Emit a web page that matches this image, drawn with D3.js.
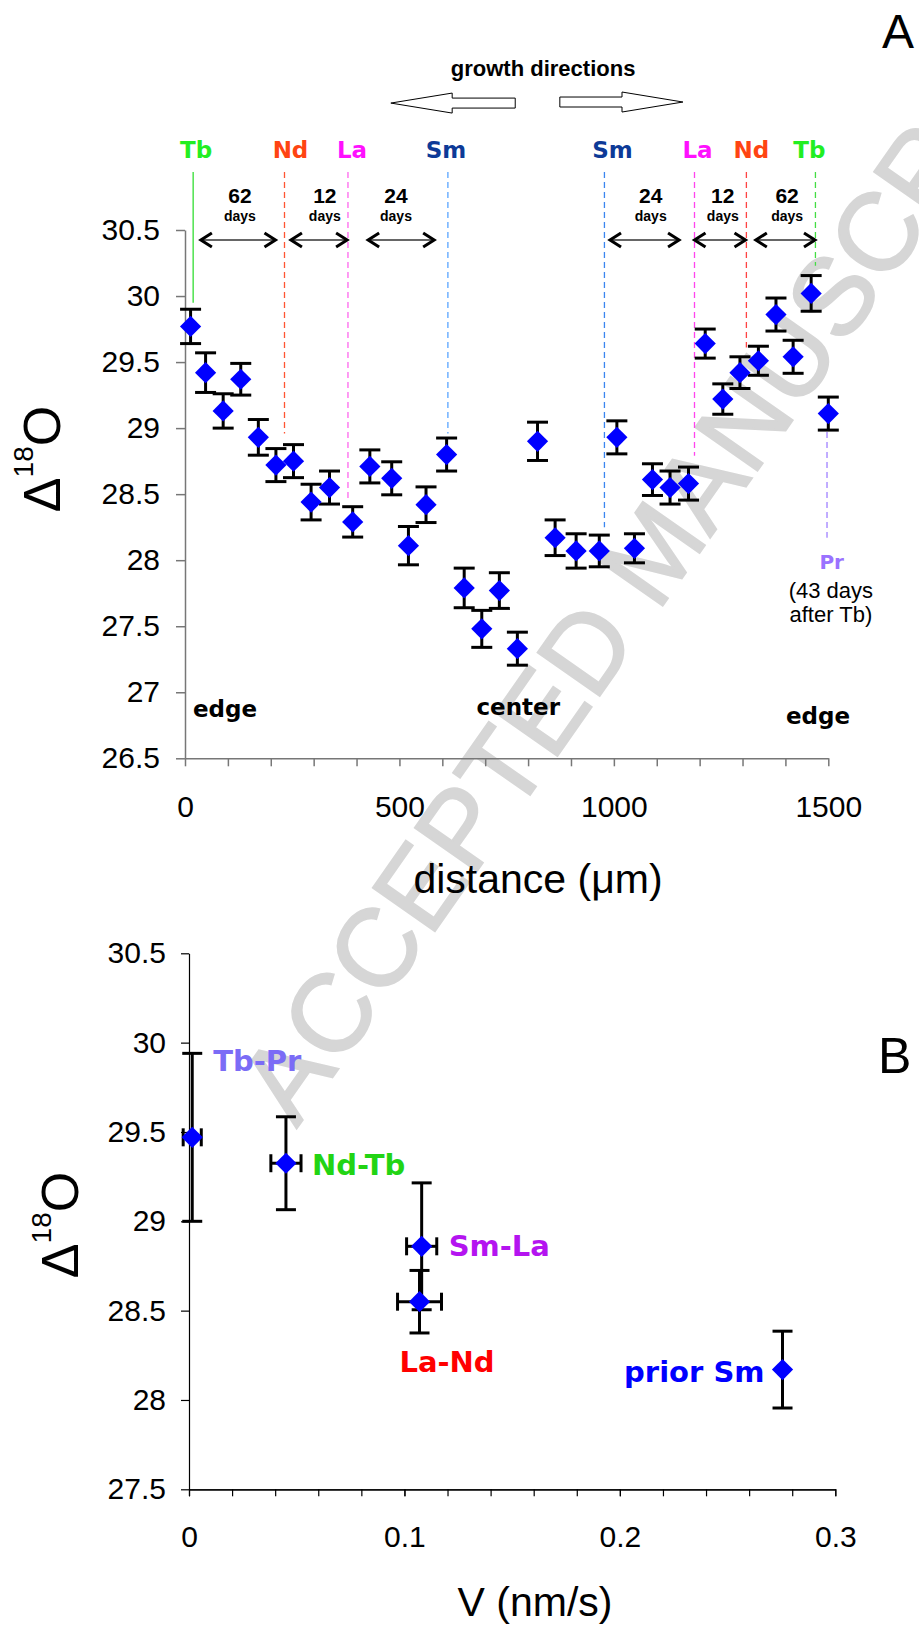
<!DOCTYPE html>
<html lang="en">
<head>
<meta charset="UTF-8">
<title>d18O profile</title>
<script src="https://d3js.org/d3.v7.min.js"></script>
<style>
body { margin: 0; background: #fff; }
svg { display: block; }
</style>
</head>
<body>
<div id="container"></div>
<script>
// ---------- data, panel A ----------
const distA = [13, 48, 89, 130, 171, 212, 253, 294, 337, 391, 431, 482, 521, 562, 610, 651, 692, 733,
  775, 822, 863, 912, 966, 1007, 1048, 1090, 1131, 1174, 1213, 1254, 1294, 1337, 1378, 1418, 1460, 1500];
const d18A = [29.77, 29.42, 29.13, 29.37, 28.93, 28.72, 28.75, 28.44, 28.55, 28.29, 28.71, 28.62, 28.11, 28.42,
  28.80, 27.79, 27.48, 27.77, 27.33, 28.90, 28.17, 28.07, 28.07, 28.93, 28.09, 28.61, 28.55, 28.58,
  29.64, 29.22, 29.42, 29.51, 29.86, 29.54, 30.02, 29.11];
const errA = [0.13, 0.15, 0.13, 0.12, 0.135, 0.125, 0.125, 0.135, 0.125, 0.115, 0.125, 0.125, 0.145, 0.135,
  0.125, 0.15, 0.14, 0.135, 0.125, 0.145, 0.135, 0.13, 0.12, 0.125, 0.11, 0.12, 0.125, 0.125,
  0.11, 0.115, 0.12, 0.11, 0.125, 0.125, 0.135, 0.125];

// dopant markers (position in µm, value where the line stops)
const markerNames = ["Tb", "Nd", "La", "Sm", "Sm", "La", "Nd", "Tb"];
const markerDist = [19, 232, 380, 613, 978, 1188, 1309, 1470];
const markerEnd = [29.95, 28.96, 28.47, 28.96, 28.25, 28.79, 29.61, 30.23];

// day intervals between markers
const dayLabels = ["62", "12", "24", "24", "12", "62"];
const dayFrom = [37, 247, 427, 991, 1188, 1331];
const dayTo = [211, 378, 581, 1152, 1307, 1469];
const dayAt = [128, 326, 492, 1086, 1254, 1404];

// ---------- data, panel B ----------
const groupsB = ["Tb-Pr", "Nd-Tb", "Sm-La", "La-Nd", "prior Sm"];
const velB = [0.0015, 0.045, 0.108, 0.107, 0.2755];
const velErrB = [0.0042, 0.007, 0.007, 0.0102, 0];
const d18B = [29.47, 29.325, 28.86, 28.55, 28.17];
const d18ErrB = [0.47, 0.26, 0.355, 0.175, 0.215];

// ---------- styles ----------
const markerColor = ["#22ee22", "#ff4412", "#ff10ff", "#0d3a97", "#0d3a97", "#ff10ff", "#ff4412", "#22ee22"];
const markerLine = ["#33dd33", "#ff5533", "#ff66ee", "#5aa5ff", "#3a86f0", "#ff44ee", "#ff4444", "#44dd44"];
const markerLabelDx = [3, 6, 4, -2, 8, 3, 5, -6];
const labelColorB = ["#7b6cf6", "#22d414", "#b414f0", "#ff0000", "#0000ff"];
const labelDxB = [21, 26, 27, -20, -18];
const labelDyB = [-76, 2, 0, 60, 2];
const labelAnchorB = ["start", "start", "start", "start", "end"];

const sansFont = "'Liberation Sans', Arial, sans-serif";
const comicFont = "'Comic Sans MS', 'DejaVu Sans', sans-serif";

const svg = d3.select("#container").append("svg")
  .attr("width", 919).attr("height", 1625);

// watermark (behind everything)
svg.append("text")
  .attr("transform", "translate(654,551) rotate(-55)")
  .attr("text-anchor", "middle")
  .attr("dominant-baseline", "central")
  .attr("font-family", sansFont)
  .attr("font-size", 110)
  .attr("fill", "#d6d6d6")
  .attr("stroke", "#d6d6d6")
  .attr("stroke-width", 2)
  .text("ACCEPTED MANUSCRIPT");

const diamond = d3.symbol(d3.symbolSquare, 225);

function styleAxis(g, color, width) {
  g.select(".domain").attr("stroke", color).attr("stroke-width", width);
  g.selectAll(".tick line").attr("stroke", color).attr("stroke-width", width);
  g.selectAll(".tick text").attr("font-family", sansFont).attr("font-size", 30).attr("fill", "#000");
}

// ================= panel A =================
const xA = d3.scaleLinear().domain([0, 1500]).range([185, 828.3]);
const yA = d3.scaleLinear().domain([26.5, 30.5]).range([758.3, 230]);
const gA = svg.append("g");

gA.append("g")
  .attr("transform", `translate(0,${yA(26.5)})`)
  .call(d3.axisBottom(xA).tickValues(d3.range(0, 1501, 100))
    .tickFormat(d => d % 500 === 0 ? d : "").tickSize(8).tickPadding(29).tickSizeOuter(0))
  .call(g => styleAxis(g, "#777", 1.5));

gA.append("g")
  .attr("transform", `translate(${xA(0)},0)`)
  .call(d3.axisLeft(yA).tickValues(d3.range(26.5, 30.6, 0.5))
    .tickFormat(d3.format("~g")).tickSize(9).tickPadding(16).tickSizeOuter(0))
  .call(g => styleAxis(g, "#777", 1.5));

// axis titles
gA.append("text")
  .attr("x", 538).attr("y", 893)
  .attr("text-anchor", "middle")
  .attr("font-family", sansFont).attr("font-size", 41)
  .text("distance (\u03bcm)");

function deltaTitle(g, x, y) {
  const t = g.append("text")
    .attr("transform", `translate(${x},${y}) rotate(-90)`)
    .attr("text-anchor", "middle")
    .attr("font-family", sansFont);
  t.append("tspan").attr("font-size", 52).text("\u0394");
  t.append("tspan").attr("font-size", 28).attr("dy", -27).text("18");
  t.append("tspan").attr("font-size", 52).attr("dy", 27).text("O");
}
deltaTitle(gA, 60, 459);

gA.append("text").attr("x", 882).attr("y", 48)
  .attr("font-family", sansFont).attr("font-size", 48).text("A");

// growth directions
gA.append("text")
  .attr("x", xA(835)).attr("y", 76)
  .attr("text-anchor", "middle")
  .attr("font-family", sansFont).attr("font-size", 22).attr("font-weight", "bold")
  .text("growth directions");

function hollowArrow(tip, base, tail, yc) {
  const hH = 0.0757, sH = 0.0378;
  const pts = [[tip, yc], [base, yc + hH], [base, yc + sH], [tail, yc + sH],
    [tail, yc - sH], [base, yc - sH], [base, yc - hH]];
  gA.append("polygon")
    .attr("points", pts.map(p => [xA(p[0]), yA(p[1])].join(",")).join(" "))
    .attr("fill", "#fff").attr("stroke", "#000").attr("stroke-width", 1);
}
hollowArrow(480, 623, 770, 31.461);
hollowArrow(1161, 1019, 874, 31.469);

// marker lines + labels
markerDist.forEach((d, i) => {
  gA.append("line")
    .attr("x1", xA(d)).attr("x2", xA(d))
    .attr("y1", yA(30.94)).attr("y2", yA(markerEnd[i]))
    .attr("stroke", markerLine[i]).attr("stroke-width", 1.3)
    .attr("stroke-dasharray", i === 0 ? null : "6,4");
  gA.append("text")
    .attr("x", xA(d) + markerLabelDx[i]).attr("y", yA(31.106))
    .attr("text-anchor", "middle").attr("dominant-baseline", "central")
    .attr("font-family", comicFont).attr("font-size", 23).attr("font-weight", "bold")
    .attr("fill", markerColor[i])
    .text(markerNames[i]);
});

// Pr marker
gA.append("line")
  .attr("x1", xA(1497)).attr("x2", xA(1497))
  .attr("y1", yA(28.97)).attr("y2", yA(28.17))
  .attr("stroke", "#a080ff").attr("stroke-width", 1.3).attr("stroke-dasharray", "6,4");
gA.append("text")
  .attr("x", xA(1508)).attr("y", yA(27.99))
  .attr("text-anchor", "middle").attr("dominant-baseline", "central")
  .attr("font-family", comicFont).attr("font-size", 20).attr("font-weight", "bold")
  .attr("fill", "#9a72ff").text("Pr");
[["(43 days", 27.77], ["after Tb)", 27.585]].forEach(([s, v]) => {
  gA.append("text")
    .attr("x", xA(1506)).attr("y", yA(v))
    .attr("text-anchor", "middle").attr("dominant-baseline", "central")
    .attr("font-family", sansFont).attr("font-size", 22)
    .text(s);
});

// day intervals
dayLabels.forEach((lab, i) => {
  const x1 = xA(dayFrom[i]), x2 = xA(dayTo[i]), y = yA(30.424);
  gA.append("line").attr("x1", x1).attr("x2", x2).attr("y1", y).attr("y2", y)
    .attr("stroke", "#333").attr("stroke-width", 1.5);
  [[x1, 1], [x2, -1]].forEach(([x, s]) => {
    gA.append("polyline")
      .attr("points", `${x + s * 11},${y - 7} ${x},${y} ${x + s * 11},${y + 7}`)
      .attr("fill", "none").attr("stroke", "#000").attr("stroke-width", 3);
  });
  gA.append("text")
    .attr("x", xA(dayAt[i])).attr("y", yA(30.765))
    .attr("text-anchor", "middle").attr("dominant-baseline", "central")
    .attr("font-family", sansFont).attr("font-size", 21).attr("font-weight", "bold")
    .text(lab);
  gA.append("text")
    .attr("x", xA(dayAt[i])).attr("y", yA(30.606))
    .attr("text-anchor", "middle").attr("dominant-baseline", "central")
    .attr("font-family", sansFont).attr("font-size", 14).attr("font-weight", "bold")
    .text("days");
});

// edge / center
[["edge", 18.7, 26.87, "start"], ["center", 777, 26.89, "middle"], ["edge", 1476, 26.82, "middle"]]
  .forEach(([s, x, v, a]) => {
    gA.append("text")
      .attr("x", xA(x)).attr("y", yA(v))
      .attr("text-anchor", a).attr("dominant-baseline", "central")
      .attr("font-family", comicFont).attr("font-size", 23).attr("font-weight", "bold")
      .text(s);
  });

// error bars and points
const ptsA = distA.map((d, i) => ({ x: d, y: d18A[i], e: errA[i] }));
const eb = gA.append("g").attr("stroke", "#000").attr("stroke-width", 3);
ptsA.forEach(p => {
  const cx = xA(p.x);
  eb.append("line").attr("x1", cx).attr("x2", cx).attr("y1", yA(p.y - p.e)).attr("y2", yA(p.y + p.e));
  [p.y - p.e, p.y + p.e].forEach(v => {
    eb.append("line").attr("x1", cx - 10.5).attr("x2", cx + 10.5).attr("y1", yA(v)).attr("y2", yA(v));
  });
});
gA.append("g").selectAll("path")
  .data(ptsA)
  .join("path")
  .attr("d", diamond)
  .attr("transform", p => `translate(${xA(p.x)},${yA(p.y)}) rotate(45)`)
  .attr("fill", "#0000ff");

// ================= panel B =================
const xB = d3.scaleLinear().domain([0, 0.3]).range([189, 835.3]);
const yB = d3.scaleLinear().domain([27.5, 30.5]).range([1489.3, 953.3]);
const gB = svg.append("g");

gB.append("g")
  .attr("transform", `translate(0,${yB(27.5)})`)
  .call(d3.axisBottom(xB).tickValues(d3.range(0, 16).map(i => i * 0.02))
    .tickFormat("").tickSize(7).tickSizeOuter(0))
  .call(g => styleAxis(g, "#000", 1.2));
gB.append("g")
  .attr("transform", `translate(0,${yB(27.5)})`)
  .call(d3.axisBottom(xB).tickValues([0, 0.1, 0.2, 0.3])
    .tickFormat(d3.format("~g")).tickSize(7).tickPadding(29).tickSizeOuter(0))
  .call(g => styleAxis(g, "#000", 1.2));

gB.append("g")
  .attr("transform", `translate(${xB(0)},0)`)
  .call(d3.axisLeft(yB).tickValues(d3.range(27.5, 30.6, 0.5))
    .tickFormat(d3.format("~g")).tickSize(8).tickPadding(15).tickSizeOuter(0))
  .call(g => styleAxis(g, "#000", 1.2));

gB.append("text")
  .attr("x", 535).attr("y", 1616)
  .attr("text-anchor", "middle")
  .attr("font-family", sansFont).attr("font-size", 41)
  .text("V (nm/s)");
deltaTitle(gB, 78, 1225);

gB.append("text").attr("x", 878).attr("y", 1073)
  .attr("font-family", sansFont).attr("font-size", 50).text("B");

const ptsB = groupsB.map((g, i) => ({ name: g, x: velB[i], xe: velErrB[i], y: d18B[i], ye: d18ErrB[i] }));
const ebB = gB.append("g").attr("stroke", "#000").attr("stroke-width", 3);
ptsB.forEach(p => {
  const cx = xB(p.x), cy = yB(p.y);
  ebB.append("line").attr("x1", cx).attr("x2", cx).attr("y1", yB(p.y - p.ye)).attr("y2", yB(p.y + p.ye));
  [p.y - p.ye, p.y + p.ye].forEach(v => {
    ebB.append("line").attr("x1", cx - 10).attr("x2", cx + 10).attr("y1", yB(v)).attr("y2", yB(v));
  });
  if (p.xe > 0) {
    ebB.append("line").attr("x1", xB(p.x - p.xe)).attr("x2", xB(p.x + p.xe)).attr("y1", cy).attr("y2", cy);
    [p.x - p.xe, p.x + p.xe].forEach(v => {
      ebB.append("line").attr("x1", xB(v)).attr("x2", xB(v)).attr("y1", cy - 9).attr("y2", cy + 9);
    });
  }
});
gB.append("g").selectAll("path")
  .data(ptsB)
  .join("path")
  .attr("d", diamond)
  .attr("transform", p => `translate(${xB(p.x)},${yB(p.y)}) rotate(45)`)
  .attr("fill", "#0000ff");

ptsB.forEach((p, i) => {
  gB.append("text")
    .attr("x", xB(p.x) + labelDxB[i]).attr("y", yB(p.y) + labelDyB[i])
    .attr("text-anchor", labelAnchorB[i]).attr("dominant-baseline", "central")
    .attr("font-family", comicFont).attr("font-size", 29).attr("font-weight", "bold")
    .attr("fill", labelColorB[i])
    .text(p.name);
});
</script>
</body>
</html>
